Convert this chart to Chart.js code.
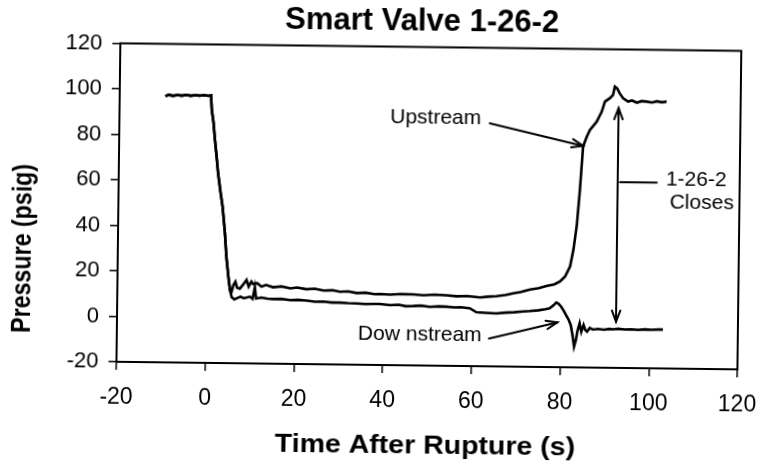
<!DOCTYPE html>
<html>
<head>
<meta charset="utf-8">
<script src="https://cdn.jsdelivr.net/npm/chart.js@4.4.0/dist/chart.umd.min.js"></script>
<style>
  html, body { margin: 0; padding: 0; background: #fff; overflow: hidden; }
  /* the scanned figure sits slightly rotated on the page */
  #chart { display: block; transform: rotate(0.7deg); transform-origin: 380.5px 237px; }
</style>
</head>
<body>
<canvas id="chart" width="761" height="474"></canvas>
<script>
// readings (time in s, pressure in psig)
const upTime = [-9.7, -9.0, -8.0, -7.0, -6.0, -5.0, -4.0, -3.0, -2.0, -1.0, 0.0, 0.6,
  0.8, 1.2, 1.6, 2.0, 2.4, 3.0, 3.5, 4.1, 4.5, 5.0, 5.4,
  5.7, 6.2, 6.6, 7.0, 7.6, 8.2, 9.1, 9.6, 10.2, 10.6,
  11.5, 12.5, 13.5, 15.1, 17.0, 19.0, 20.5, 22.6, 24.5, 26.5,
  28.5, 30.2, 32.0, 34.0, 36.0, 38.0, 39.2, 41.5, 44.0, 46.7,
  49.0, 51.5, 54.2, 56.5, 59.0, 61.8, 63.5, 65.5, 67.5, 69.2,
  71.0, 73.0, 75.0, 76.7, 78.5, 79.8, 80.9, 82.0, 82.7, 83.4,
  84.0, 84.6, 85.4, 86.1, 87.6, 88.7, 89.4, 90.5, 91.2, 91.6,
  92.1, 92.7, 93.5, 94.6, 95.5, 96.6, 97.7, 98.8, 100.0, 101.1,
  102.2, 103.3];
const upPsig = [97.0, 97.6, 97.2, 97.6, 97.3, 97.7, 97.3, 97.6, 97.4, 97.7, 97.4, 97.6,
  91.2, 86.0, 78.0, 71.0, 63.4, 55.0, 48.7, 37.1, 26.7, 17.9, 12.1,
  11.0, 14.5, 15.8, 13.2, 12.8, 14.2, 16.7, 13.8, 16.0, 14.9,
  15.3, 13.8, 14.6, 13.6, 14.0, 13.2, 13.6, 12.9, 13.2, 12.4,
  12.6, 12.0, 12.2, 11.5, 11.7, 11.1, 11.2, 11.0, 11.3, 11.2,
  10.9, 11.2, 11.0, 10.6, 10.8, 10.2, 10.6, 10.9, 11.4, 12.2,
  12.9, 14.0, 14.6, 15.6, 16.4, 17.7, 19.9, 24.4, 31.6, 42.5,
  58.0, 77.1, 81.4, 84.4, 88.1, 92.5, 97.0, 98.5, 99.9, 103.6,
  102.9, 100.7, 98.5, 97.1, 97.6, 96.7, 97.4, 97.2, 96.8, 97.4,
  97.0, 97.3];

const downTime = [-9.7, -9.0, -8.0, -7.0, -6.0, -5.0, -4.0, -3.0, -2.0, -1.0, 0.0, 0.6,
  0.8, 1.2, 1.6, 2.0, 2.4, 3.0, 3.5, 4.1, 4.5, 5.0, 5.4,
  5.8, 6.4, 6.9, 7.8, 8.5, 9.9, 10.5, 11.0, 11.3, 12.5,
  13.8, 15.2, 17.0, 19.0, 20.8, 22.7, 24.6, 26.5, 28.3, 30.2,
  32.0, 34.0, 36.0, 38.0, 39.2, 41.5, 43.5, 45.0, 46.7, 48.5,
  50.5, 52.5, 54.2, 56.0, 57.5, 59.5, 61.0, 62.8, 65.5, 67.5,
  69.5, 71.5, 73.0, 75.0, 76.5, 77.5, 78.4, 79.0, 79.5, 80.1,
  80.7, 81.2, 81.8, 82.3, 82.7, 83.1, 83.5, 83.8, 84.3, 84.7,
  85.2, 85.6, 86.0, 86.6, 87.3, 88.5, 89.8, 91.0, 91.8, 93.0,
  94.5, 96.0, 97.5, 99.0, 100.5, 102.0, 103.1];
const downPsig = [97.0, 97.6, 97.2, 97.6, 97.3, 97.7, 97.3, 97.6, 97.4, 97.7, 97.4, 97.6,
  91.2, 86.0, 78.0, 71.0, 63.4, 55.0, 48.7, 37.1, 26.7, 17.9, 12.1,
  9.0, 8.0, 8.5, 9.3, 8.6, 9.3, 8.4, 13.5, 8.6, 9.0,
  8.6, 8.4, 8.5, 8.0, 8.2, 7.9, 7.5, 7.6, 7.2, 7.2,
  7.0, 6.9, 6.7, 6.8, 6.8, 6.4, 6.6, 6.0, 6.1, 6.3,
  5.8, 6.1, 6.0, 5.7, 5.8, 5.4, 3.7, 3.5, 3.3, 3.7,
  3.9, 4.3, 4.5, 4.9, 5.4, 5.8, 7.2, 8.4, 7.9, 6.6,
  4.8, 3.0, 1.0, -1.4, -5.5, -10.9, -8.0, -4.3, -0.6, -4.3,
  -1.3, -3.5, -4.2, -2.6, -3.3, -3.0, -3.3, -2.9, -3.1, -2.8,
  -3.1, -3.0, -3.2, -2.9, -3.1, -2.9, -2.9];

const xTicks = [-20, 0, 20, 40, 60, 80, 100, 120];
const yTicks = [-20, 0, 20, 40, 60, 80, 100, 120];

const FONT = '"Liberation Sans", Arial, Helvetica, sans-serif';

function toPoints(xs, ys) {
  return xs.map((x, i) => ({ x: x, y: ys[i] }));
}

function text(ctx, str, x, y, font, opts) {
  opts = opts || {};
  ctx.save();
  ctx.translate(x, y);
  if (opts.rot) ctx.rotate(opts.rot);
  ctx.scale(opts.sx || 1, opts.sy || 1);
  ctx.font = font;
  ctx.fillStyle = '#000';
  ctx.textAlign = 'center';
  ctx.textBaseline = 'middle';
  ctx.fillText(str, 0, 0);
  ctx.restore();
}

function arrowHead(ctx, fx, fy, tx, ty) {
  const ang = Math.atan2(ty - fy, tx - fx);
  const len = 12, spread = 0.36;
  ctx.beginPath();
  ctx.moveTo(tx - len * Math.cos(ang - spread), ty - len * Math.sin(ang - spread));
  ctx.lineTo(tx, ty);
  ctx.lineTo(tx - len * Math.cos(ang + spread), ty - len * Math.sin(ang + spread));
  ctx.stroke();
}

// frame, titles and the hand-drawn notes
const notes = {
  id: 'notes',
  afterDraw(chart) {
    const { ctx, chartArea: a, scales: { x, y } } = chart;
    const px = v => x.getPixelForValue(v);
    const py = v => y.getPixelForValue(v);

    ctx.save();
    ctx.strokeStyle = '#000';
    ctx.lineWidth = 2;
    ctx.strokeRect(a.left, a.top, a.right - a.left, a.bottom - a.top);

    const midX = (a.left + a.right) / 2;
    text(ctx, 'Smart Valve 1-26-2', midX - 9, a.top - 25, 'bold 31px ' + FONT);
    text(ctx, 'Time After Rupture (s)', midX - 1, a.bottom + 81, 'bold 28.5px ' + FONT, { sy: 0.9 });
    text(ctx, 'Pressure (psig)', 23.5, (a.top + a.bottom) / 2 + 47, 'bold 27px ' + FONT,
      { rot: -Math.PI / 2, sx: 0.86 });

    const f = '21px ' + FONT;
    text(ctx, 'Upstream', px(51.3), py(88.9), f);
    text(ctx, 'Dow nstream', px(48.3), py(-6.5), f);
    text(ctx, '1-26-2', px(110.2), py(62.8), f);
    text(ctx, 'Closes', px(111.5), py(52.9), f);

    ctx.lineWidth = 2;
    ctx.lineCap = 'round';
    // Upstream pointer
    let x1 = px(63.5), y1 = py(86.8), x2 = px(84.6), y2 = py(77.4);
    ctx.beginPath(); ctx.moveTo(x1, y1); ctx.lineTo(x2, y2); ctx.stroke();
    arrowHead(ctx, x1, y1, x2, y2);
    // Downstream pointer
    x1 = px(63.9); y1 = py(-7.8); x2 = px(79.3); y2 = py(-0.3);
    ctx.beginPath(); ctx.moveTo(x1, y1); ctx.lineTo(x2, y2); ctx.stroke();
    arrowHead(ctx, x1, y1, x2, y2);
    // closing span, double headed
    x1 = px(92.5); y1 = py(94.2); y2 = py(0.3);
    ctx.beginPath(); ctx.moveTo(x1, y1); ctx.lineTo(x1, y2); ctx.stroke();
    arrowHead(ctx, x1, y2, x1, y1);
    arrowHead(ctx, x1, y1, x1, y2);
    // leader to the label
    ctx.beginPath(); ctx.moveTo(px(93), py(61.7)); ctx.lineTo(px(101.3), py(61.7)); ctx.stroke();
    ctx.restore();
  }
};

const lineStyle = { showLine: true, borderColor: '#000', borderWidth: 2.6, pointRadius: 0, tension: 0, fill: false };

new Chart(document.getElementById('chart'), {
  type: 'scatter',
  data: {
    datasets: [
      Object.assign({ label: 'Upstream', data: toPoints(upTime, upPsig) }, lineStyle),
      Object.assign({ label: 'Downstream', data: toPoints(downTime, downPsig) }, lineStyle)
    ]
  },
  options: {
    responsive: false,
    animation: false,
    devicePixelRatio: 1,
    layout: { padding: { top: 46.5, right: 22, left: 0, bottom: 0 } },
    plugins: {
      legend: { display: false },
      tooltip: { enabled: false },
      title: { display: false }
    },
    scales: {
      x: {
        type: 'linear',
        min: -20,
        max: 120,
        afterBuildTicks: s => { s.ticks = xTicks.map(v => ({ value: v })); },
        afterFit: s => { s.height = 109; s.paddingLeft = 0; s.paddingRight = 0; },
        border: { display: true, color: '#000', width: 2 },
        grid: { drawOnChartArea: false, drawTicks: true, tickLength: 8, color: '#000', lineWidth: 1.5 },
        ticks: { color: '#000', padding: 14, autoSkip: false, maxRotation: 0, font: { family: FONT, size: 23 } }
      },
      y: {
        min: -20,
        max: 120,
        afterBuildTicks: s => { s.ticks = yTicks.map(v => ({ value: v })); },
        afterFit: s => { s.width = 118; s.paddingTop = 0; s.paddingBottom = 0; },
        border: { display: true, color: '#000', width: 2 },
        grid: { drawOnChartArea: false, drawTicks: true, tickLength: 8, color: '#000', lineWidth: 1.5 },
        ticks: { color: '#000', padding: 10, autoSkip: false, font: { family: FONT, size: 22 } }
      }
    }
  },
  plugins: [notes]
});
</script>
</body>
</html>
